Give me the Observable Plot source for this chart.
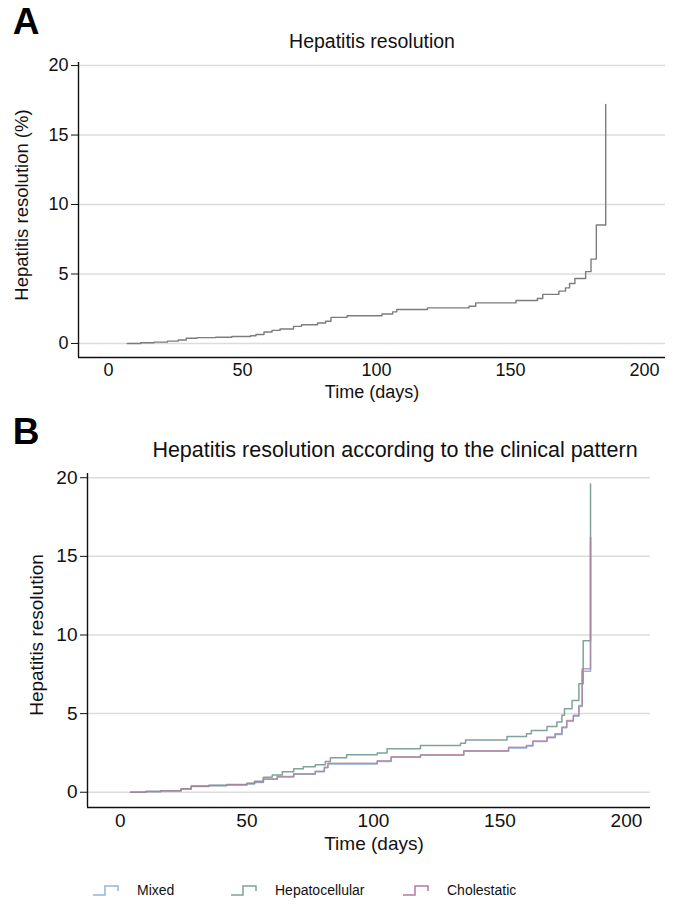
<!DOCTYPE html>
<html><head><meta charset="utf-8">
<script src="https://cdn.jsdelivr.net/npm/d3@7"></script>
<script src="https://cdn.jsdelivr.net/npm/@observablehq/plot@0.6"></script>
<style>
body{margin:0;background:#fff;font-family:"Liberation Sans",Arial,sans-serif;}
#root{position:relative;width:692px;height:912px;overflow:hidden;background:#fff}
.t{position:absolute;white-space:nowrap;color:#111;transform:translate(-50%,-50%);line-height:1}
.p{position:absolute;left:0}
</style></head><body><div id="root"></div>
<script>
// ---- data ----
const xTicks = [0, 50, 100, 150, 200];
const yTicks = [0, 5, 10, 15, 20];

// Panel A: overall cumulative hepatitis resolution (%)
const overallDays = [7,12,17,22,26,29,33,40,46,53,55,58,61,64,69,72,78,81,83,89,102,106,107.5,119,134.5,137,152,160,162,168,170.5,172,174,178,180,182,185.5];
const overallPct  = [0,0.05,0.1,0.17,0.25,0.37,0.42,0.45,0.5,0.55,0.65,0.82,0.94,1.04,1.23,1.35,1.47,1.6,1.88,2.0,2.12,2.27,2.44,2.56,2.68,2.92,3.09,3.24,3.53,3.77,4.0,4.32,4.68,5.17,6.07,8.53,17.2];

// Panel B: by clinical pattern
const patterns = ["Mixed", "Hepatocellular", "Cholestatic"];
const patternColors = ["#8fb6d8", "#7fa398", "#b27c9c"];

const hepDays = [4,10,16,24,28,35,42,50,53,56.5,60,64,68.5,72.3,77,81,83,89.4,101.5,105.4,118.6,134.4,136.4,152.8,160.5,162.4,168.6,172.5,174.5,175.5,178.5,181.2,182.9,185.8];
const hepVals = [0,0.05,0.1,0.22,0.4,0.45,0.5,0.58,0.7,0.95,1.1,1.3,1.49,1.62,1.75,1.96,2.19,2.38,2.49,2.77,2.98,3.12,3.33,3.54,3.72,3.92,4.18,4.46,4.89,5.31,5.84,6.9,9.64,19.6];

const cholDays = [4,10,16,24,28,35,42,50,53,56.5,62,68.5,77,80.6,82,101.5,107,118.6,135.7,153.4,160.5,163,168.6,171.8,174.5,176.4,179,181.2,182.5,185.8];
const cholVals = [0,0.05,0.1,0.22,0.38,0.43,0.48,0.55,0.65,0.85,1.0,1.17,1.34,1.59,1.84,2.0,2.26,2.39,2.64,2.86,2.98,3.26,3.51,3.72,4.15,4.57,4.89,5.52,7.85,16.2];

const mixDays = [4,10,16,24,28,35,42,50,53,56.5,62,68.5,77,80.6,82,101.5,107,118.6,135.7,153.4,160.5,163,168.6,171.8,174.5,176.4,179,181.2,182.5,185.8];
const mixVals = [0,0.04,0.09,0.2,0.36,0.41,0.46,0.53,0.62,0.82,0.97,1.14,1.31,1.55,1.8,1.96,2.22,2.35,2.6,2.82,2.94,3.22,3.47,3.68,4.1,4.52,4.84,5.45,7.7,16.2];

// ---- helpers ----
const FONT = '"Liberation Sans", Arial, sans-serif';
const root = document.getElementById("root");
function text(str, x, y, size, extra = "") {
  const d = document.createElement("div");
  d.className = "t";
  d.style.left = x + "px"; d.style.top = y + "px"; d.style.fontSize = size + "px";
  d.style.cssText += extra;
  d.textContent = str;
  root.appendChild(d);
  return d;
}
function panel({top, height, mt, mb, ml, mr, xd, yd, fs, lines}) {
  const p = Plot.plot({
    width: 692, height,
    marginTop: mt, marginBottom: mb, marginLeft: ml, marginRight: mr,
    x: {domain: xd}, y: {domain: yd},
    style: {fontFamily: FONT, fontSize: fs + "px", color: "#111", background: "transparent", overflow: "visible"},
    marks: [
      Plot.ruleY(yTicks, {stroke: "#dcdcdc", strokeWidth: 1.5}),
      ...lines,
      Plot.ruleX([xd[0]], {stroke: "#111", strokeWidth: 1.4}),
      Plot.ruleY([yd[0]], {stroke: "#111", strokeWidth: 1.4}),
      Plot.axisY(yTicks, {anchor: "left", tickSize: 7, tickPadding: 3, label: null, fontSize: fs, tickFormat: d => d}),
      Plot.axisX(xTicks, {anchor: "bottom", tickSize: 0, tickPadding: 6, label: null, fontSize: fs, tickFormat: d => d})
    ]
  });
  p.classList.add("p");
  p.style.top = top + "px";
  root.appendChild(p);
}

// ---- Panel A ----
const dataA = overallDays.map((d, i) => ({day: d, v: overallPct[i]}));
panel({
  top: 50, height: 360, mt: 12, mb: 53, ml: 78, mr: 27,
  xd: [-11.2, 207.8], yd: [-1.01, 20.22], fs: 18,
  lines: [Plot.line(dataA, {x: "day", y: "v", curve: "step-after", stroke: "#7c7c7c", strokeWidth: 1.4})]
});
text("A", 26, 21, 37, "font-weight:bold;color:#000");
text("Hepatitis resolution", 372, 42, 19.5);
text("Time (days)", 372, 392, 18);
text("Hepatitis resolution (%)", 22, 205, 18.5, "transform:translate(-50%,-50%) rotate(-90deg)");

// ---- Panel B ----
const series = [
  {days: mixDays, vals: mixVals},
  {days: hepDays, vals: hepVals},
  {days: cholDays, vals: cholVals}
];
const linesB = series.map((s, k) =>
  Plot.line(s.days.map((d, i) => ({day: d, v: s.vals[i]})),
    {x: "day", y: "v", curve: "step-after", stroke: patternColors[k], strokeWidth: 1.5, strokeOpacity: k === 2 ? 0.75 : 1})
);
panel({
  top: 465, height: 380, mt: 8, mb: 38, ml: 87, mr: 42,
  xd: [-13.0, 209.5], yd: [-0.97, 20.27], fs: 19,
  lines: linesB
});
text("B", 26, 431, 37, "font-weight:bold;color:#000");
text("Hepatitis resolution according to the clinical pattern", 395, 451, 21.5);
text("Time (days)", 374, 843, 19);
text("Hepatitis resolution", 36, 635, 19, "transform:translate(-50%,-50%) rotate(-90deg)");

// ---- Legend ----
const legendX = [92, 230, 402];
patterns.forEach((name, k) => {
  const ns = "http://www.w3.org/2000/svg";
  const s = document.createElementNS(ns, "svg");
  s.setAttribute("width", 28); s.setAttribute("height", 14);
  s.style.position = "absolute"; s.style.left = legendX[k] + "px"; s.style.top = "883px";
  const path = document.createElementNS(ns, "path");
  path.setAttribute("d", "M1 12 H13 V3 H26 V8");
  path.setAttribute("fill", "none");
  path.setAttribute("stroke", patternColors[k]);
  path.setAttribute("stroke-width", 1.5);
  s.appendChild(path);
  root.appendChild(s);
  text(name, legendX[k] + 45, 890, 14, "transform:translate(0,-50%)");
});
</script>
</body></html>
